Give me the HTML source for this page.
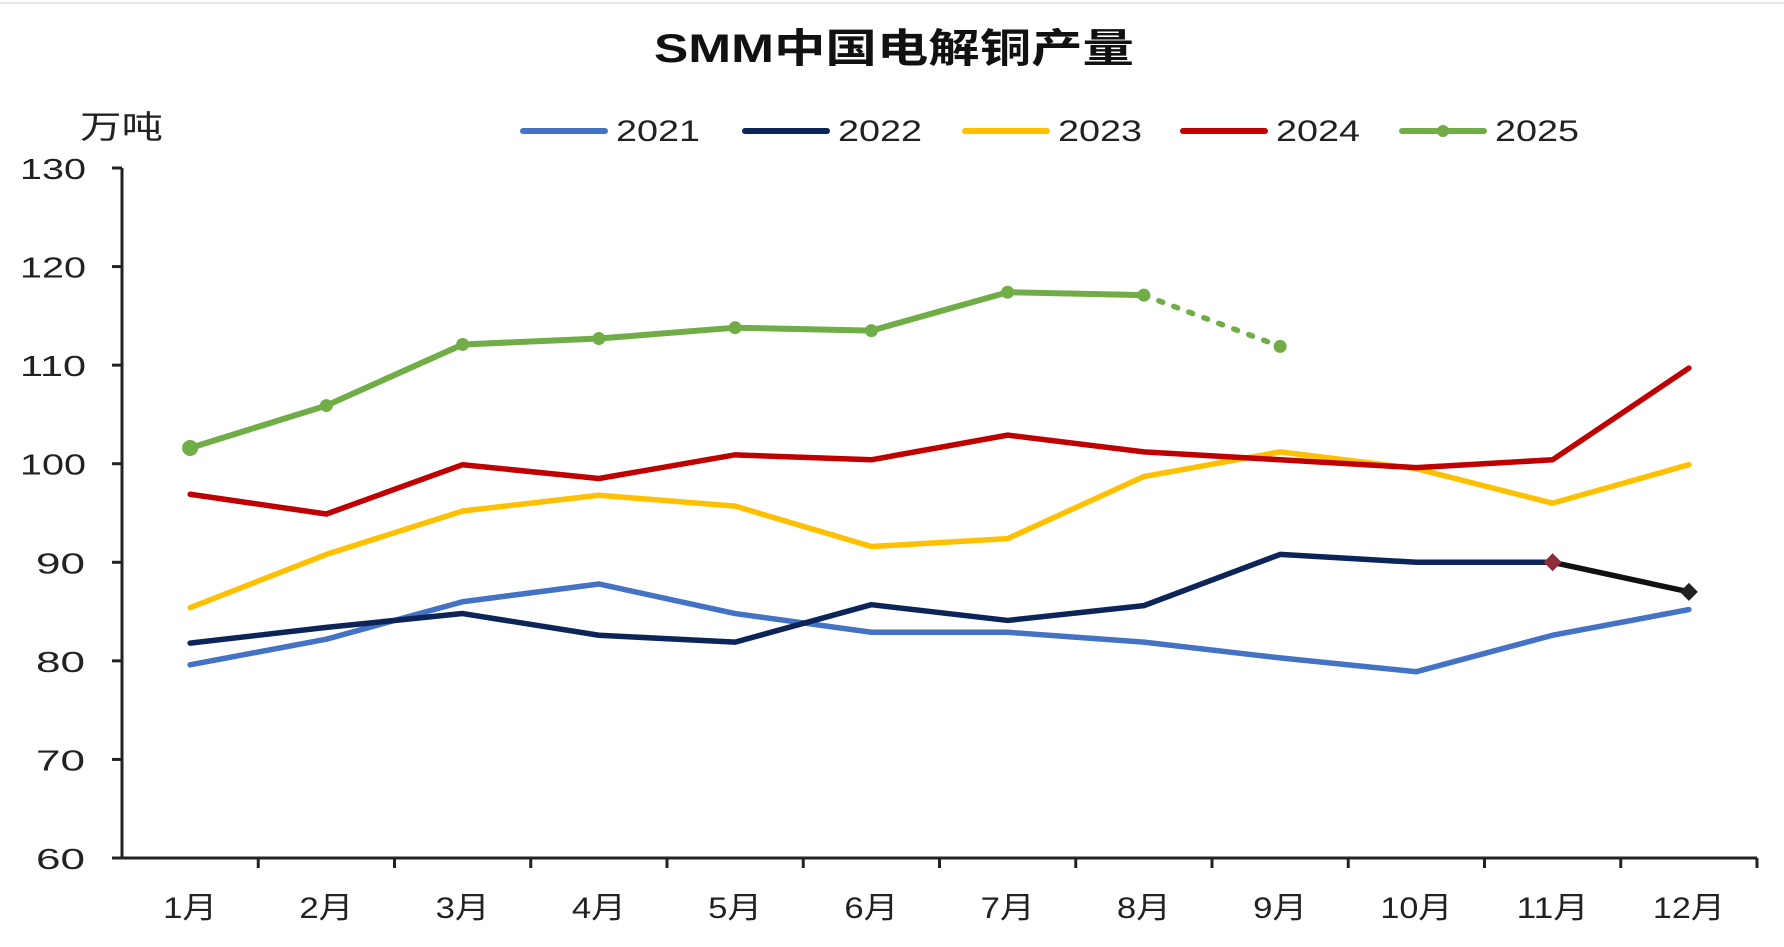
<!DOCTYPE html>
<html><head><meta charset="utf-8"><style>
html,body{margin:0;padding:0;background:#fff;}
svg{display:block;font-family:"Liberation Sans","Noto Sans CJK SC",sans-serif;}
</style></head><body>
<svg id="c" width="1784" height="947" viewBox="0 0 1784 947" xmlns="http://www.w3.org/2000/svg">
<rect width="1784" height="947" fill="#fff"/>
<line x1="0" y1="3" x2="1784" y2="3" stroke="#e6e6e6" stroke-width="2"/>
<text x="654" y="62" font-size="40" font-weight="bold" textLength="480" lengthAdjust="spacingAndGlyphs" fill="#111">SMM中国电解铜产量</text>
<text x="80" y="138" font-size="32" textLength="83" lengthAdjust="spacingAndGlyphs" fill="#222">万吨</text>
<g id="g"></g>
</svg>
<script>
var g=document.getElementById('g'),h='';
var X0=122,X1=1757,st=(X1-X0)/12;
function Y(v){return 858-(v-60)*9.857;}
function X(i){return X0+st*(i+0.5);}
h+='<line x1="'+X0+'" y1="168" x2="'+X0+'" y2="858" stroke="#222" stroke-width="3"/>';
h+='<line x1="'+X0+'" y1="858" x2="'+X1+'" y2="858" stroke="#222" stroke-width="3"/>';
for(var v=60;v<=130;v+=10){var y=Y(v);h+='<line x1="'+(X0-10)+'" y1="'+y+'" x2="'+X0+'" y2="'+y+'" stroke="#222" stroke-width="3"/>';
h+='<text x="'+(v>=100?20:36)+'" y="'+(y+11)+'" font-size="29" textLength="'+(v>=100?66:49)+'" lengthAdjust="spacingAndGlyphs" fill="#222">'+v+'</text>';}
for(var i=1;i<=12;i++){var x=X0+st*i;h+='<line x1="'+x+'" y1="858" x2="'+x+'" y2="868" stroke="#222" stroke-width="3"/>';
var w=i>=10?72:54;
h+='<text x="'+(X(i-1)-w/2)+'" y="918" font-size="30" textLength="'+w+'" lengthAdjust="spacingAndGlyphs" fill="#222">'+i+'月</text>';}
function pl(d,c,w){var p=d.map(function(v,i){return X(i)+','+Y(v)}).join(' ');
return '<polyline points="'+p+'" fill="none" stroke="'+c+'" stroke-width="'+w+'" stroke-linejoin="round" stroke-linecap="round"/>';}
h+=pl([79.6,82.2,86,87.8,84.8,82.9,82.9,81.9,80.3,78.9,82.6,85.2],'#4472C4',5.5);
h+=pl([81.8,83.4,84.8,82.6,81.9,85.7,84.1,85.6,90.8,90.0,90.0],'#0C2458',5.5);
h+=pl([85.4,90.8,95.2,96.8,95.7,91.6,92.4,98.7,101.2,99.5,96,99.9],'#FFC000',5.5);
h+=pl([96.9,94.9,99.9,98.5,100.9,100.4,102.9,101.2,100.4,99.6,100.4,109.7],'#C00000',5.5);
h+='<line x1="'+X(10)+'" y1="'+Y(90)+'" x2="'+X(11)+'" y2="'+Y(87)+'" stroke="#111" stroke-width="5.5"/>';
function dia(x,y,c){return '<polygon points="'+(x-9)+','+y+' '+x+','+(y-9)+' '+(x+9)+','+y+' '+x+','+(y+9)+'" fill="'+c+'"/>';}
h+=dia(X(10),Y(90),'#8B2D3C')+dia(X(11),Y(87),'#222');
var g5=[101.6,105.9,112.1,112.7,113.8,113.5,117.4,117.1];
h+=pl(g5,'#70AD47',6);
h+='<line x1="'+X(7)+'" y1="'+Y(117.1)+'" x2="'+X(8)+'" y2="'+Y(111.9)+'" stroke="#70AD47" stroke-width="5.5" stroke-dasharray="4,12" stroke-linecap="round"/>';
g5.concat([111.9]).forEach(function(v,i){h+='<circle cx="'+X(i)+'" cy="'+Y(v)+'" r="'+(i==0?8:6.5)+'" fill="#70AD47"/>';});
var L=[[523,'#4472C4','2021'],[745,'#0C2458','2022'],[965,'#FFC000','2023'],[1183,'#C00000','2024'],[1402,'#70AD47','2025']];
L.forEach(function(l){h+='<line x1="'+l[0]+'" y1="131" x2="'+(l[0]+82)+'" y2="131" stroke="'+l[1]+'" stroke-width="6" stroke-linecap="round"/>';
if(l[2]=='2025')h+='<circle cx="'+(l[0]+41)+'" cy="131" r="6" fill="#70AD47"/>';
h+='<text x="'+(l[0]+93)+'" y="141" font-size="30" textLength="84" lengthAdjust="spacingAndGlyphs" fill="#222">'+l[2]+'</text>';});
g.innerHTML=h;
</script>
</body></html>
